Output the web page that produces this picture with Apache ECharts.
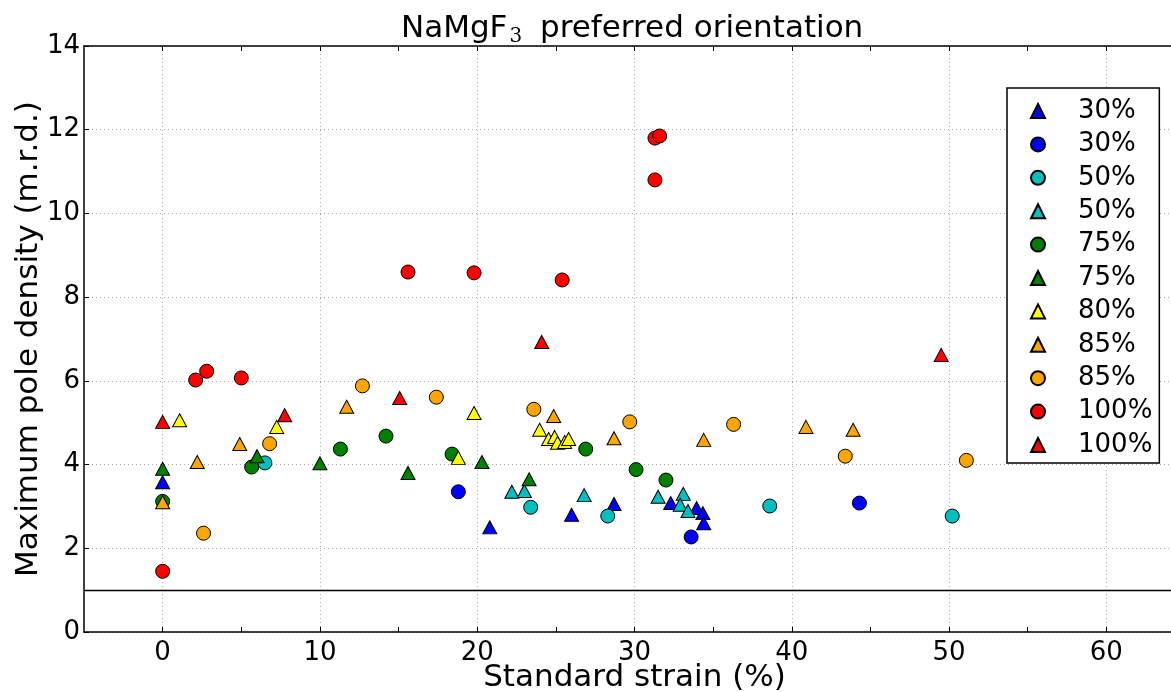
<!DOCTYPE html>
<html>
<head>
<meta charset="utf-8">
<script src="https://cdn.jsdelivr.net/npm/echarts@6/dist/echarts.min.js"></script>
<style>
html,body{margin:0;padding:0;background:#fff;}
#chart{width:1171px;height:692px;}
</style>
</head>
<body>
<div id="chart"></div>
<script>
// ---- data (x: standard strain %, y: maximum pole density m.r.d.) ----
const blueTri30 = [[0,3.58],[20.8,2.5],[26.0,2.8],[28.7,3.06],[32.3,3.08],[33.95,2.96],[34.35,2.84],[34.4,2.6]];
const blueCirc30 = [[18.8,3.35],[33.6,2.27],[44.3,3.08]];
const cyanCirc50 = [[6.5,4.04],[23.4,2.98],[28.3,2.77],[38.6,3.01],[50.2,2.77]];
const cyanTri50 = [[22.2,3.35],[23.0,3.37],[26.8,3.27],[31.5,3.23],[33.1,3.3],[32.9,3.04],[33.4,2.89]];
const greenCirc75 = [[0,3.12],[5.66,3.94],[11.3,4.37],[14.2,4.68],[18.4,4.25],[26.9,4.37],[30.1,3.88],[32.0,3.63]];
const greenTri75 = [[0,3.9],[6.0,4.2],[10.0,4.03],[15.6,3.8],[20.3,4.06],[23.3,3.65]];
const yellowTri80 = [[1.08,5.06],[7.25,4.9],[18.8,4.16],[19.8,5.23],[23.97,4.83],[24.54,4.61],[24.92,4.66],[25.11,4.52],[25.56,4.54],[25.81,4.61]];
const orangeTri85 = [[0,3.1],[2.2,4.06],[4.9,4.49],[11.7,5.38],[24.86,5.16],[28.7,4.63],[34.4,4.59],[40.9,4.9],[43.9,4.83]];
const orangeCirc85 = [[2.6,2.36],[6.8,4.5],[12.7,5.88],[17.4,5.61],[23.6,5.32],[29.7,5.02],[36.3,4.96],[43.4,4.2],[51.1,4.1]];
const redCirc100 = [[0,1.45],[2.1,6.02],[2.8,6.23],[5.0,6.07],[15.6,8.6],[19.8,8.58],[25.4,8.41],[31.3,10.8],[31.3,11.8],[31.6,11.85]];
const redTri100 = [[0,5.02],[7.76,5.18],[15.07,5.59],[24.1,6.93],[49.5,6.62]];

const xLabelValues = [0,10,20,30,40,50,60];
const xTickValues = [0,5,10,15,20,25,30,35,40,45,50,55,60];
const referenceLevel = 1;

const FONT = 'DejaVu Sans';

const seriesDefs = [
  {name:'30%', data:blueTri30, symbol:'triangle', color:'#0000ff'},
  {name:'30% ', data:blueCirc30, symbol:'circle', color:'#0000ff'},
  {name:'50%', data:cyanCirc50, symbol:'circle', color:'#00bfbf'},
  {name:'50% ', data:cyanTri50, symbol:'triangle', color:'#00bfbf'},
  {name:'75%', data:greenCirc75, symbol:'circle', color:'#008000'},
  {name:'75% ', data:greenTri75, symbol:'triangle', color:'#008000'},
  {name:'80%', data:yellowTri80, symbol:'triangle', color:'#ffff00'},
  {name:'85%', data:orangeTri85, symbol:'triangle', color:'#ffa500'},
  {name:'85% ', data:orangeCirc85, symbol:'circle', color:'#ffa500'},
  {name:'100%', data:redCirc100, symbol:'circle', color:'#ff0000'},
  {name:'100% ', data:redTri100, symbol:'triangle', color:'#ff0000'}
];

const series = seriesDefs.map((d, i) => {
  const s = {
    name: d.name,
    type: 'scatter',
    data: d.data,
    symbol: d.symbol,
    symbolSize: d.symbol === 'circle' ? 14 : [14, 13],
    itemStyle: {color: d.color, borderColor: '#000', borderWidth: 1, opacity: 1},
    emphasis: {disabled: true},
    z: 3 + i
  };
  if (i === 0) {
    s.markLine = {
      silent: true,
      symbol: ['none','none'],
      label: {show: false},
      lineStyle: {color: '#000', width: 1.3, type: 'solid'},
      data: [{yAxis: referenceLevel}],
      animation: false
    };
  }
  return s;
});

const axisLineStyle = {color: '#000', width: 1.5};

const option = {
  animation: false,
  backgroundColor: '#fff',
  textStyle: {fontFamily: FONT},
  title: {
    text: 'NaMgF{sub|3} preferred orientation',
    left: 401,
    top: 11,
    padding: 0,
    textStyle: {
      fontFamily: FONT, fontSize: 31, fontWeight: 'normal', color: '#000',
      rich: {
        sub: {fontFamily: 'DejaVu Serif', fontSize: 20, color: '#000', padding: [16, 8, 0, 2]}
      }
    }
  },
  grid: {left: 84, top: 46, right: -14, bottom: 60, containLabel: false, outerBoundsMode: 'none'},
  legend: {
    orient: 'vertical',
    left: 1007,
    top: 88,
    padding: [10, 7, 5, 23],
    itemWidth: 14,
    itemHeight: 14,
    itemGap: 7.4,
    borderColor: '#000',
    borderWidth: 1.5,
    backgroundColor: '#fff',
    selectedMode: false,
    formatter: n => n.trim(),
    textStyle: {fontFamily: FONT, fontSize: 26, color: '#000', padding: [0, 0, 0, 28]},
    data: seriesDefs.map(d => d.name)
  },
  xAxis: [
    {
      type: 'value', position: 'bottom', min: -5, max: 65,
      name: 'Standard strain (%)', nameLocation: 'middle', nameGap: 30, nameMoveOverlap: false,
      nameTextStyle: {fontFamily: FONT, fontSize: 31, color: '#000'},
      axisLine: {show: true, onZero: false, lineStyle: axisLineStyle},
      axisTick: {show: true, inside: true, length: 5, customValues: xTickValues, lineStyle: {color: '#000', width: 1}},
      axisLabel: {show: true, customValues: xLabelValues, fontFamily: FONT, fontSize: 26, color: '#000', margin: 8},
      splitLine: {show: false}
    },
    {
      type: 'value', position: 'top', min: -5, max: 65,
      axisLine: {show: true, onZero: false, lineStyle: axisLineStyle},
      axisTick: {show: true, inside: true, length: 5, customValues: xTickValues, lineStyle: {color: '#000', width: 1}},
      axisLabel: {show: false},
      splitLine: {show: false}
    },
    {
      type: 'value', min: -5, max: 65,
      axisLine: {show: false},
      axisTick: {show: false, customValues: xLabelValues},
      axisLabel: {show: false},
      splitLine: {show: true, lineStyle: {color: '#aaaaaa', width: 1, type: [1, 3]}}
    }
  ],
  yAxis: [
    {
      type: 'value', position: 'left', min: 0, max: 14, interval: 2,
      name: 'Maximum pole density (m.r.d.)', nameLocation: 'middle', nameGap: 40, nameMoveOverlap: false,
      nameTextStyle: {fontFamily: FONT, fontSize: 31, color: '#000'},
      axisLine: {show: true, onZero: false, lineStyle: axisLineStyle},
      axisTick: {show: true, inside: true, length: 5, lineStyle: {color: '#000', width: 1}},
      axisLabel: {fontFamily: FONT, fontSize: 26, color: '#000', margin: 4},
      splitLine: {show: true, lineStyle: {color: '#aaaaaa', width: 1, type: [1, 3]}}
    }
  ],
  series: series
};

const chart = echarts.init(document.getElementById('chart'), null, {renderer: 'canvas'});
chart.setOption(option);
</script>
</body>
</html>
